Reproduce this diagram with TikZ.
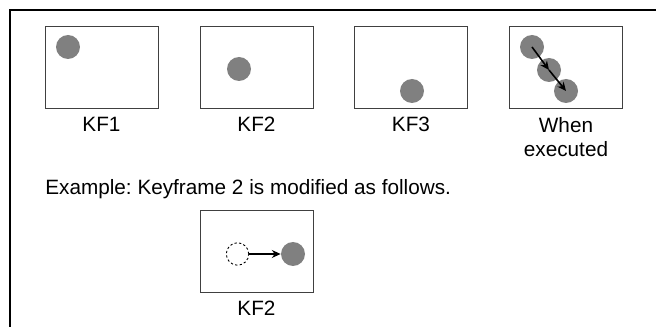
\documentclass[tikz,border=0pt]{standalone}
\usepackage{fontspec}
\setmainfont{Liberation Sans}
\usetikzlibrary{arrows.meta,positioning}
\frenchspacing

\begin{document}
\begin{tikzpicture}[
    x=0.02cm, y=-0.02cm,
    frame/.style={draw=black!75, line width=0.5pt, minimum width=2.26cm, minimum height=1.63cm, inner sep=0pt},
    dot/.style={circle, fill=black!50, minimum size=0.48cm, inner sep=0pt},
    ghost/.style={circle, draw, dash pattern=on 1.3pt off 1.3pt, minimum size=0.45cm, inner sep=0pt, line width=0.5pt},
    lbl/.style={font=\fontsize{11.8}{14.2}\selectfont, inner sep=0pt, align=center},
    arr/.style={-{Stealth[length=5pt,width=4.5pt]}, line width=0.9pt}
]
\useasboundingbox (0,0) rectangle (656,327);
\draw[line width=1.3pt] (656,10) -- (10,10) -- (10,327);

% keyframes
\node[frame] (kf1) at (101.5,67.5) {};
\node[frame] (kf2) at (256.5,67.5) {};
\node[frame] (kf3) at (411,67.5) {};
\node[frame] (exec) at (566,67.5) {};

\node[dot] (d1) at (68,47) {};
\node[dot] (d2) at (239,69) {};
\node[dot] (d3) at (412,91) {};
\node[dot] (e1) at (532,47) {};
\node[dot] (e2) at (549,70) {};
\node[dot] (e3) at (566,91) {};

\draw[arr] (e1.center) -- (e2.center);
\draw[arr] (e2.center) -- (e3.center);

\node[lbl, below=0.16cm of kf1] (kf1lbl) {KF1};
\node[lbl, below=0.16cm of kf2] (kf2lbl) {KF2};
\node[lbl, below=0.16cm of kf3] (kf3lbl) {KF3};
\node[lbl, below=0.16cm of exec] (execlbl) {When\\executed};

% modified keyframe
\node[lbl, anchor=base west] (example) at (45,195) {Example: Keyframe 2 is modified as follows.};
\node[frame] (kfmod) at (256.5,251.5) {};
\node[ghost] (oldpos) at (237.5,254) {};
\node[dot] (newpos) at (293,254) {};
\draw[arr] (oldpos.east) -- (newpos.west);
\node[lbl, below=0.15cm of kfmod] (kfmodlbl) {KF2};
\end{tikzpicture}
\end{document}
